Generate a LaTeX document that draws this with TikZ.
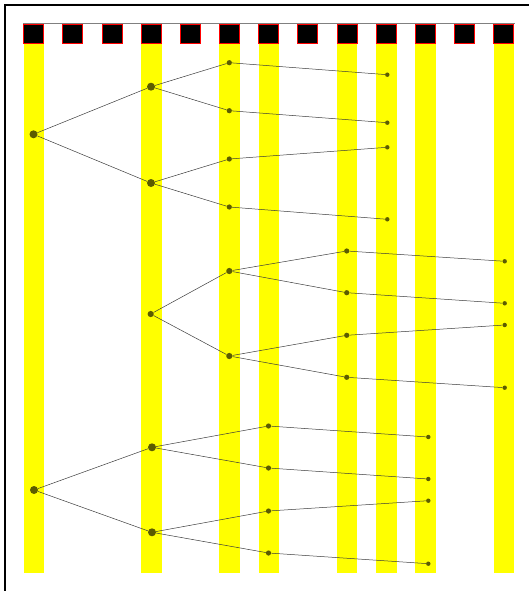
\documentclass[tikz,border=0pt]{standalone}
\usetikzlibrary{backgrounds}
\definecolor{dotc}{RGB}{92,92,0}
\definecolor{barc}{RGB}{255,255,0}
\definecolor{edgec}{RGB}{60,60,60}
\tikzset{
  dotbig/.style={circle,fill=dotc,inner sep=0pt,minimum size=8pt},
  dotmid/.style={circle,fill=dotc,inner sep=0pt,minimum size=6.2pt},
  dotsml/.style={circle,fill=dotc,inner sep=0pt,minimum size=5.2pt},
  dottiny/.style={circle,fill=dotc,inner sep=0pt,minimum size=4.4pt},
  edge/.style={draw=edgec,line width=0.5pt},
  bar/.style={fill=barc},
  headbox/.style={fill=black,draw=red,line width=1pt}
}
\begin{document}
\begin{tikzpicture}[x=1pt,y=-1pt]
\useasboundingbox (0,0) rectangle (529,591);
\clip (0,0) rectangle (529,591);
\draw[line width=1.5pt] (4.8,4.8) rectangle (560,620);
% yellow bars
\foreach \i in {0,3,5,6,8,9,10,12}{
  \fill[bar] ({33.8+39.17*\i-10.2},44) rectangle ({33.8+39.17*\i+10.2},573);
}
% top line and header boxes
\draw[gray,line width=1pt] (23,24) -- (515,24);
\foreach \i in {0,...,12}{
  \draw[headbox] ({33.8+39.17*\i-10},24.5) rectangle ({33.8+39.17*\i+10},44);
}
% tree A
\node[dotbig] (a0) at (33.5,134.3) {};
\node[dotbig] (a1) at (151,86.7) {};
\node[dotbig] (a2) at (151,183) {};
\node[dotsml] (a11) at (229.3,62.7) {};
\node[dotsml] (a12) at (229.3,110.7) {};
\node[dotsml] (a21) at (229.3,159) {};
\node[dotsml] (a22) at (229.3,207) {};
\node[dottiny] (a111) at (387.3,74.7) {};
\node[dottiny] (a121) at (387.3,122.7) {};
\node[dottiny] (a211) at (387.3,147.3) {};
\node[dottiny] (a221) at (387.3,219.3) {};
% tree B
\node[dotmid] (b0) at (150.7,314) {};
\node[dotmid] (b1) at (229.3,271) {};
\node[dotmid] (b2) at (229.3,356) {};
\node[dotsml] (b11) at (346.7,251) {};
\node[dotsml] (b12) at (346.7,292.7) {};
\node[dotsml] (b21) at (346.7,335.3) {};
\node[dotsml] (b22) at (346.7,377.3) {};
\node[dottiny] (b111) at (504.7,261.3) {};
\node[dottiny] (b121) at (504.7,303.3) {};
\node[dottiny] (b211) at (504.7,325) {};
\node[dottiny] (b221) at (504.7,387.7) {};
% tree C
\node[dotbig] (c0) at (34,490) {};
\node[dotbig] (c1) at (152,447.3) {};
\node[dotbig] (c2) at (152,532.3) {};
\node[dotsml] (c11) at (268.5,426) {};
\node[dotsml] (c12) at (268.5,468) {};
\node[dotsml] (c21) at (268.5,511) {};
\node[dotsml] (c22) at (268.5,553) {};
\node[dottiny] (c111) at (428.3,437) {};
\node[dottiny] (c121) at (428.3,479) {};
\node[dottiny] (c211) at (428.3,500.7) {};
\node[dottiny] (c221) at (428.3,563.7) {};
% edges
\foreach \p in {a,b,c}{
  \draw[edge] (\p0) -- (\p1);
  \draw[edge] (\p0) -- (\p2);
  \draw[edge] (\p1) -- (\p11);
  \draw[edge] (\p1) -- (\p12);
  \draw[edge] (\p2) -- (\p21);
  \draw[edge] (\p2) -- (\p22);
  \draw[edge] (\p11) -- (\p111);
  \draw[edge] (\p12) -- (\p121);
  \draw[edge] (\p21) -- (\p211);
  \draw[edge] (\p22) -- (\p221);
}
\end{tikzpicture}
\end{document}
